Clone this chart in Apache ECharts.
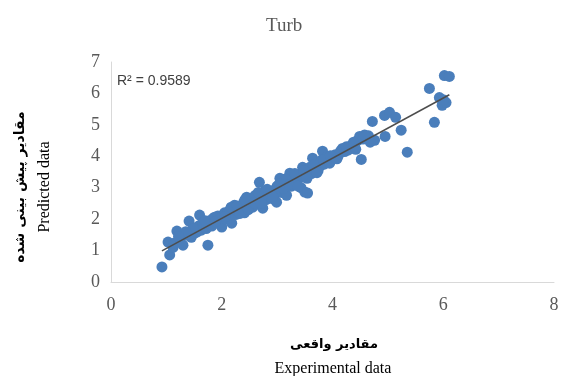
<!DOCTYPE html>
<html>
<head>
<meta charset="utf-8">
<script src="https://cdn.jsdelivr.net/npm/echarts@6/dist/echarts.min.js"></script>
<style>
  html, body { margin: 0; padding: 0; background: #fff; }
  #chart { width: 562px; height: 376px; }
</style>
</head>
<body>
<div id="chart"></div>
<script>
const expX = [
  0.92, 1.03, 1.06, 1.12, 1.15, 1.19, 1.25, 1.30, 1.37, 1.41, 1.45, 1.50, 1.55, 1.58, 1.60, 1.63, 1.66, 1.69, 1.72, 1.75,
  1.78, 1.80, 1.84, 1.87, 1.90, 1.93, 1.96, 2.00, 2.02, 2.05, 2.08, 2.11, 2.14, 2.18, 2.20, 2.23, 2.26, 2.29, 2.32, 2.36,
  2.38, 2.41, 2.45, 2.47, 2.50, 2.53, 2.56, 2.59, 2.62, 2.65, 2.68, 2.70, 2.74, 2.76, 2.80, 2.83, 2.86, 2.90, 2.93, 2.96,
  2.99, 3.02, 3.05, 3.08, 3.11, 3.14, 3.17, 3.20, 3.23, 3.26, 3.30, 3.33, 3.37, 3.40, 3.43, 3.46, 3.50, 3.52, 3.55, 3.58,
  3.59, 3.62, 3.64, 3.67, 3.71, 3.74, 3.78, 3.80, 3.82, 3.85, 3.88, 3.92, 3.95, 4.00, 4.05, 4.10, 4.13, 4.18, 4.22, 4.28,
  4.34, 4.40, 4.45, 4.49, 4.52, 4.55, 4.61, 4.65, 4.72, 4.76, 4.94, 4.95, 5.03, 5.14, 5.24, 5.35, 5.75, 5.84, 5.93, 5.98,
  6.02, 6.05, 6.11, 6.00, 1.82, 1.98, 2.12, 2.25, 2.35, 2.44, 2.55, 2.64, 2.72, 2.88, 2.97, 3.10, 3.28, 3.45, 3.56, 2.15,
  2.40, 2.60, 2.78, 3.00, 3.15, 3.35, 1.70, 1.88, 2.06, 2.17, 2.28, 2.33, 2.42, 2.48, 2.58, 2.66, 2.71, 2.82, 2.92, 3.04,
  3.12, 3.22, 3.32, 3.38, 3.48, 3.54, 3.66, 3.72, 3.84, 3.96, 4.08, 4.15, 4.25, 4.38, 4.42, 4.58, 4.68, 1.48, 1.35, 1.22
];
const predY = [
  0.48, 1.27, 0.86, 1.10, 1.24, 1.62, 1.35, 1.17, 1.49, 1.94, 1.42, 1.55, 1.59, 1.78, 2.13, 1.65, 1.90, 1.81, 1.70, 1.17,
  1.95, 1.82, 2.02, 2.06, 1.88, 2.10, 1.98, 1.75, 2.05, 2.20, 2.00, 2.19, 2.08, 1.87, 2.25, 2.44, 2.15, 2.35, 2.25, 2.29,
  2.45, 2.20, 2.70, 2.40, 2.50, 2.55, 2.38, 2.62, 2.48, 2.70, 3.17, 2.60, 2.35, 2.75, 2.62, 2.70, 2.85, 2.66, 2.90, 2.78,
  2.54, 2.95, 3.30, 2.85, 3.05, 2.92, 2.76, 3.15, 3.46, 3.05, 3.20, 3.10, 3.24, 3.35, 3.00, 3.65, 2.86, 3.40, 2.83, 3.50,
  3.65, 3.45, 3.94, 3.60, 3.65, 3.55, 3.70, 3.87, 4.16, 3.75, 3.95, 3.85, 3.78, 3.97, 4.05, 4.00, 4.10, 4.25, 4.15, 4.20,
  4.35, 4.30, 4.50, 4.63, 3.90, 4.55, 4.57, 4.65, 5.11, 4.51, 5.30, 4.63, 5.40, 5.24, 4.83, 4.13, 6.16, 5.08, 5.87, 5.62,
  6.57, 5.71, 6.54, 5.80, 1.78, 2.02, 2.12, 2.30, 2.38, 2.48, 2.60, 2.58, 2.68, 2.80, 2.95, 3.12, 3.25, 3.35, 3.55, 2.30,
  2.55, 2.75, 2.90, 3.05, 3.28, 3.40, 1.95, 1.92, 2.08, 2.38, 2.42, 2.18, 2.62, 2.30, 2.52, 2.85, 2.50, 2.95, 2.72, 3.12,
  2.98, 3.10, 3.45, 3.05, 3.55, 3.30, 3.72, 3.48, 3.90, 4.02, 3.92, 4.18, 4.30, 4.45, 4.22, 4.68, 4.45, 1.70, 1.60, 1.45
];

const chartTitle = 'Turb'
const r2Label = 'R² = 0.9589'
const xTitleFa = 'مقادیر واقعی'
const xTitleEn = 'Experimental data'
const yTitleFa = 'مقادیر پیش بینی شده'
const yTitleEn = 'Predicted data'

const points = expX.map((x, i) => [x, predY[i]])

// least squares trendline over the data range, like Excel's linear trendline
function trendline(xs, ys) {
  const n = xs.length
  const mx = xs.reduce((a, b) => a + b, 0) / n
  const my = ys.reduce((a, b) => a + b, 0) / n
  let sxy = 0, sxx = 0
  for (let i = 0; i < n; i++) {
    sxy += (xs[i] - mx) * (ys[i] - my)
    sxx += (xs[i] - mx) * (xs[i] - mx)
  }
  const slope = sxy / sxx
  const icpt = my - slope * mx
  const x0 = Math.min(...xs), x1 = Math.max(...xs)
  return [[x0, icpt + slope * x0], [x1, icpt + slope * x1]]
}

const chart = echarts.init(document.getElementById('chart'))

const serif = '"Liberation Serif", "DejaVu Serif", serif'
const faFont = '"DejaVu Sans", "Noto Sans", sans-serif'

const option = {
  animation: false,
  grid: { left: 111, right: 8, top: 62, bottom: 94 },
  xAxis: {
    type: 'value',
    min: 0, max: 8, interval: 2,
    axisLine: { show: true, lineStyle: { color: '#d9d9d9', width: 1 } },
    axisTick: { show: false },
    splitLine: { show: false },
    axisLabel: { color: '#595959', fontFamily: serif, fontSize: 18, margin: 14 }
  },
  yAxis: {
    type: 'value',
    min: 0, max: 7, interval: 1,
    axisLine: { show: true, lineStyle: { color: '#d9d9d9', width: 1 } },
    axisTick: { show: false },
    splitLine: { show: false },
    axisLabel: { color: '#595959', fontFamily: serif, fontSize: 18, margin: 11 }
  },
  series: [
    {
      type: 'scatter',
      data: points,
      symbolSize: 11,
      itemStyle: { color: '#4a7ebb', opacity: 1 },
      z: 2
    },
    {
      type: 'line',
      data: trendline(expX, predY),
      symbol: 'none',
      lineStyle: { color: '#4d4d4d', width: 1.5 },
      z: 3
    }
  ],
  graphic: [
    {
      type: 'text', left: 266, top: 17,
      style: { text: chartTitle, font: '19px ' + serif, fill: '#595959', textAlign: 'center' }
    },
    {
      type: 'text', left: 117, top: 74,
      style: { text: r2Label, font: '14px "Liberation Sans", Arial, sans-serif', fill: '#404040' }
    },
    {
      type: 'text', x: 334, y: 345,
      style: { text: xTitleFa, font: 'bold 13px ' + faFont, fill: '#000', align: 'center', verticalAlign: 'middle' }
    },
    {
      type: 'text', x: 333, y: 369,
      style: { text: xTitleEn, font: '16px ' + serif, fill: '#000', align: 'center', verticalAlign: 'middle' }
    },
    {
      type: 'text', x: 20, y: 187, rotation: Math.PI / 2,
      style: { text: yTitleFa, font: 'bold 14px ' + faFont, fill: '#000', align: 'center', verticalAlign: 'middle' }
    },
    {
      type: 'text', x: 45, y: 187, rotation: Math.PI / 2,
      style: { text: yTitleEn, font: '16px ' + serif, fill: '#000', align: 'center', verticalAlign: 'middle' }
    }
  ]
}

chart.setOption(option)
</script>
</body>
</html>
